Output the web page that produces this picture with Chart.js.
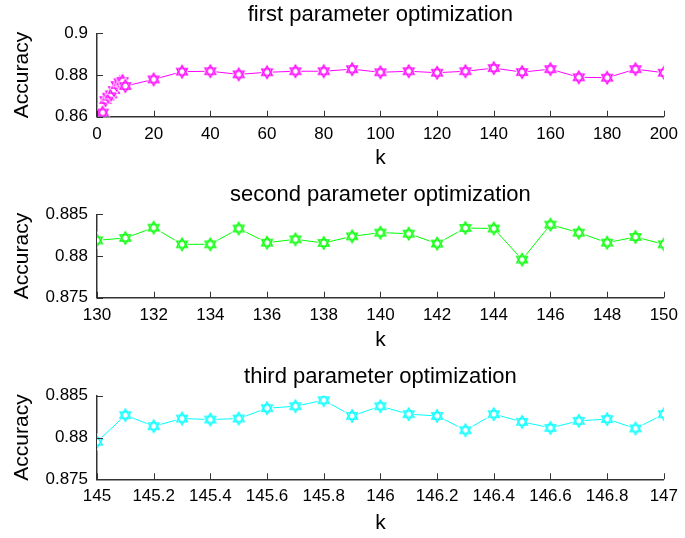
<!DOCTYPE html>
<html>
<head>
<meta charset="utf-8">
<script src="https://cdn.jsdelivr.net/npm/chart.js@4/dist/chart.umd.min.js"></script>
<style>
html, body { margin: 0; padding: 0; background: #fff; }
.panel { position: absolute; left: 0; width: 685px; height: 176px; }
</style>
</head>
<body>
<div class="panel" style="top:0px"><canvas id="c1" width="685" height="176"></canvas></div>
<div class="panel" style="top:180px"><canvas id="c2" width="685" height="176"></canvas></div>
<div class="panel" style="top:362px"><canvas id="c3" width="685" height="176"></canvas></div>
<script>
// values
const k1 = [2, 3, 4, 5, 6, 7, 8, 9, 10, 20, 30, 40, 50, 60, 70, 80, 90, 100, 110, 120, 130, 140, 150, 160, 170, 180, 190, 200];
const acc1 = [0.862, 0.868, 0.8696, 0.8707, 0.8728, 0.8752, 0.8765, 0.8771, 0.8747, 0.8779, 0.8816, 0.8818, 0.8803, 0.8813,
              0.8818, 0.8818, 0.8828, 0.8813, 0.8818, 0.8811, 0.8818, 0.8833, 0.8814, 0.8828, 0.8789, 0.8787, 0.8828, 0.8811];

const k2 = [130, 131, 132, 133, 134, 135, 136, 137, 138, 139, 140, 141, 142, 143, 144, 145, 146, 147, 148, 149, 150];
const acc2 = [0.88188, 0.88216, 0.8834, 0.8814, 0.8814, 0.88329, 0.8816, 0.882, 0.88156, 0.88236, 0.8828,
              0.88268, 0.88149, 0.88336, 0.88329, 0.87957, 0.88376, 0.8828, 0.8816, 0.88228, 0.8814];

const k3 = [145, 145.1, 145.2, 145.3, 145.4, 145.5, 145.6, 145.7, 145.8, 145.9, 146,
            146.1, 146.2, 146.3, 146.4, 146.5, 146.6, 146.7, 146.8, 146.9, 147];
const acc3 = [0.87948, 0.88267, 0.88135, 0.88227, 0.88215, 0.88227, 0.8835, 0.88374, 0.88446, 0.88258, 0.88374,
              0.88279, 0.88258, 0.88087, 0.88279, 0.88187, 0.88115, 0.88199, 0.8822, 0.88108, 0.88279];

const xTicks1 = [0, 20, 40, 60, 80, 100, 120, 140, 160, 180, 200];
const yTicks1 = [0.86, 0.88, 0.9];
const xTicks2 = [130, 132, 134, 136, 138, 140, 142, 144, 146, 148, 150];
const yTicks2 = [0.875, 0.88, 0.885];
const xTicks3 = [145, 145.2, 145.4, 145.6, 145.8, 146, 146.2, 146.4, 146.6, 146.8, 147];
const yTicks3 = [0.875, 0.88, 0.885];

const titles = ['first parameter optimization', 'second parameter optimization', 'third parameter optimization'];

const FONT = "'Liberation Sans', Arial, sans-serif";
const AXIS = '#333';

// hexagram marker, white inside
function hexagram(color) {
    const s = 18, c = document.createElement('canvas');
    c.width = s; c.height = s;
    const g = c.getContext('2d');
    const R = 6.2, cx = s / 2, cy = s / 2;
    const tri = (rot) => {
        g.beginPath();
        for (let i = 0; i < 3; i++) {
            const a = rot + i * 2 * Math.PI / 3;
            g.lineTo(cx + R * Math.cos(a), cy + R * Math.sin(a));
        }
        g.closePath();
    };
    g.fillStyle = '#fff';
    g.strokeStyle = '#fff';
    g.lineWidth = 3;
    tri(-Math.PI / 2); g.stroke(); g.fill();
    tri(Math.PI / 2); g.stroke(); g.fill();
    g.strokeStyle = color;
    g.lineWidth = 1.3;
    tri(-Math.PI / 2); g.stroke();
    tri(Math.PI / 2); g.stroke();
    return c;
}

// small tick marks drawn inward
const inwardTicks = {
    id: 'inwardTicks',
    afterDraw(chart) {
        const { ctx, chartArea: a, scales: { x, y } } = chart;
        ctx.save();
        ctx.strokeStyle = AXIS;
        ctx.lineWidth = 1;
        ctx.beginPath();
        x.ticks.forEach(t => {
            const px = Math.round(x.getPixelForValue(t.value)) + 0.5;
            ctx.moveTo(px, a.bottom);
            ctx.lineTo(px, a.bottom - 6);
        });
        y.ticks.forEach(t => {
            const py = Math.round(y.getPixelForValue(t.value)) + 0.5;
            ctx.moveTo(a.left, py);
            ctx.lineTo(a.left + 6, py);
        });
        ctx.stroke();
        ctx.restore();
    }
};

function makePanel(id, p) {
    new Chart(document.getElementById(id), {
        type: 'line',
        data: {
            datasets: [{
                data: p.xs.map((v, i) => ({ x: v, y: p.ys[i] })),
                borderColor: p.color,
                borderWidth: 1,
                pointStyle: hexagram(p.color),
                pointRadius: 6,
                tension: 0
            }]
        },
        options: {
            responsive: false,
            animation: false,
            layout: { padding: { left: 0, right: 15, top: 0, bottom: 0 } },
            plugins: {
                legend: { display: false },
                tooltip: { enabled: false },
                title: {
                    display: true,
                    text: p.title,
                    fullSize: false,
                    color: '#000',
                    font: { family: FONT, size: 22, weight: 'normal' },
                    padding: { top: 2, bottom: p.areaTop - 28.4 }
                }
            },
            scales: {
                x: {
                    type: 'linear',
                    min: p.xTicks[0],
                    max: p.xTicks[p.xTicks.length - 1],
                    afterBuildTicks: s => { s.ticks = p.xTicks.map(v => ({ value: v })); },
                    afterFit: s => { s.height = 176 - p.areaBottom; },
                    grid: { display: false, drawTicks: false, tickLength: 0 },
                    border: { display: true, color: AXIS, width: 1.5 },
                    ticks: {
                        color: '#000', padding: 7, maxRotation: 0, autoSkip: false,
                        font: { family: FONT, size: 17 },
                        callback: v => String(v)
                    },
                    title: {
                        display: true, text: 'k', color: '#000',
                        font: { family: FONT, size: 21 },
                        padding: { top: 0, bottom: p.kPad }
                    }
                },
                y: {
                    min: p.yTicks[0],
                    max: p.yTicks[p.yTicks.length - 1],
                    afterBuildTicks: s => { s.ticks = p.yTicks.map(v => ({ value: v })); },
                    afterFit: s => { s.width = 97; },
                    grid: { display: false, drawTicks: false, tickLength: 0 },
                    border: { display: true, color: AXIS, width: 1.5 },
                    ticks: {
                        color: '#000', padding: 9,
                        font: { family: FONT, size: 17 },
                        callback: v => String(v)
                    },
                    title: {
                        display: true, text: 'Accuracy', color: '#000',
                        font: { family: FONT, size: 21 },
                        padding: { top: 9.4, bottom: 0 }
                    }
                }
            }
        },
        plugins: [inwardTicks]
    });
}

makePanel('c1', { xs: k1, ys: acc1, xTicks: xTicks1, yTicks: yTicks1, color: '#ff00ff',
                  title: titles[0], areaTop: 33.3, areaBottom: 116.7, kPad: 5.4 });
makePanel('c2', { xs: k2, ys: acc2, xTicks: xTicks2, yTicks: yTicks2, color: '#00ff00',
                  title: titles[1], areaTop: 34.3, areaBottom: 117.7, kPad: 3.4 });
makePanel('c3', { xs: k3, ys: acc3, xTicks: xTicks3, yTicks: yTicks3, color: '#00ffff',
                  title: titles[2], areaTop: 33.7, areaBottom: 117.3, kPad: 2.4 });
</script>
</body>
</html>
